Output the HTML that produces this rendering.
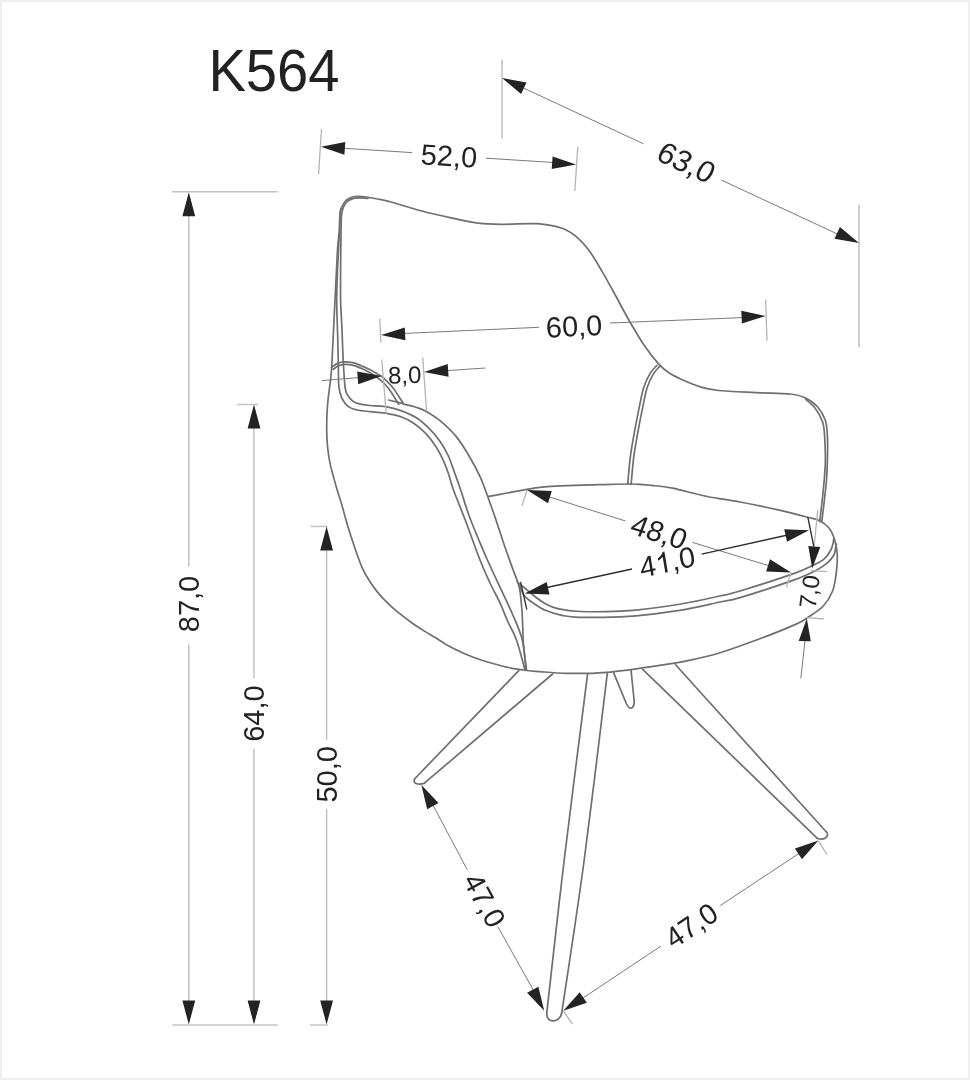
<!DOCTYPE html>
<html><head><meta charset="utf-8"><style>
html,body{margin:0;padding:0;background:#fff;}
body{width:970px;height:1080px;overflow:hidden;position:relative;}
.frame{position:absolute;left:0;top:0;width:966px;height:1076px;border:2px solid #efefef;}
svg{position:absolute;left:0;top:0;}
.ch{fill:none;stroke:#6f6f6f;stroke-width:1.7;stroke-linecap:round;stroke-linejoin:round;}
.dl{stroke:#7a7a7a;stroke-width:1;}
.tl{stroke:#b4b4b4;stroke-width:1.3;}
.xl{stroke:#c4c4c4;stroke-width:1.5;}
.vl{stroke:#bdbdbd;stroke-width:1.4;}
.ah{fill:#232323;}
.g1{fill:#222;}
.dk{stroke:#2e2e2e;stroke-width:1.3;}
text{font-family:"Liberation Sans",sans-serif;fill:#222;text-anchor:middle;}
.title{text-anchor:start;fill:#222;}
</style></head><body><div class="frame"></div>
<svg style="will-change:transform" width="970" height="1080" viewBox="0 0 970 1080">
<path class="ch" d="M487.8,496.7 C491.0,496.1 500.5,494.2 507.0,493.0 C513.5,491.8 521.2,490.3 526.7,489.4 C532.2,488.5 534.5,488.0 540.0,487.4 C545.5,486.8 550.0,486.2 560.0,485.8 C570.0,485.4 588.2,485.0 600.0,484.7 C611.8,484.4 622.2,483.9 630.8,484.0 C639.4,484.1 644.8,484.7 651.7,485.4 C658.7,486.1 663.2,486.3 672.5,488.2 C681.8,490.1 696.0,494.2 707.2,496.5 C718.5,498.8 728.4,499.8 740.0,502.0 C751.6,504.2 765.9,507.1 777.0,509.6 C788.1,512.1 799.6,515.1 806.7,517.0 C813.8,518.9 815.9,518.9 819.6,520.7 C823.3,522.5 826.4,525.0 828.9,528.0 C831.4,531.0 833.0,534.7 834.4,539.0 C835.8,543.3 836.9,548.4 837.2,554.0 C837.5,559.6 837.1,566.4 836.3,572.6 C835.5,578.8 834.8,585.4 832.6,591.0 C830.4,596.6 827.3,601.7 823.3,606.0 C819.3,610.3 813.1,613.9 808.5,617.0 C803.9,620.1 803.9,620.7 795.6,624.4 C787.3,628.1 771.1,634.6 758.5,639.3 C745.9,644.0 731.4,649.3 720.0,652.8 C708.6,656.3 701.4,657.9 690.3,660.2 C679.2,662.5 667.6,664.3 653.2,666.4 C638.8,668.5 618.1,671.5 603.7,672.6 C589.3,673.8 577.2,673.5 566.6,673.3 C556.0,673.1 546.6,672.1 540.0,671.6 C533.4,671.1 531.5,671.0 526.8,670.5 C522.1,670.0 517.2,669.4 512.0,668.4 C506.8,667.4 501.0,665.7 495.5,664.2 C490.0,662.7 484.5,661.2 479.0,659.3 C473.5,657.4 468.0,655.2 462.5,652.7 C457.0,650.2 450.5,646.9 446.0,644.4 C441.5,641.9 439.2,640.0 435.6,637.8 C432.0,635.6 428.5,633.7 424.4,631.1 C420.3,628.5 415.5,625.4 411.1,622.2 C406.7,619.1 401.9,615.5 397.8,612.2 C393.7,608.9 390.2,605.7 386.7,602.2 C383.2,598.7 379.7,594.8 376.7,591.1 C373.7,587.4 371.3,583.9 368.9,580.0 C366.5,576.1 364.2,572.2 362.2,567.8 C360.2,563.3 358.5,558.5 356.7,553.3 C354.9,548.1 352.9,542.2 351.1,536.7 C349.3,531.2 347.6,525.4 346.0,520.0 C344.4,514.6 343.2,509.4 341.7,504.4 C340.2,499.4 338.7,495.0 337.2,490.0 C335.7,485.0 334.0,478.8 332.8,474.4 C331.6,469.9 330.8,467.6 330.0,463.3 C329.2,459.1 328.3,453.3 327.8,448.9 C327.3,444.5 327.1,441.0 326.9,437.0 C326.7,433.0 326.7,429.2 326.7,425.0 C326.7,420.8 326.9,416.2 327.1,412.0 C327.3,407.8 327.6,404.0 328.0,400.0 C328.4,396.0 328.9,393.6 329.5,388.0 C330.1,382.4 330.8,381.4 331.7,366.7 C332.6,352.0 334.0,319.4 335.0,300.0 C336.0,280.6 336.8,261.7 337.5,250.0 C338.2,238.3 339.1,235.9 339.5,230.0 C339.9,224.1 339.6,218.3 339.9,214.7 C340.2,211.1 340.5,210.4 341.1,208.6 C341.7,206.8 342.6,205.1 343.6,203.6 C344.6,202.1 345.8,200.6 347.3,199.5 C348.8,198.4 350.8,197.5 352.7,197.0 C354.6,196.5 356.7,196.4 358.9,196.4 C361.1,196.4 362.8,196.6 366.0,197.0 C369.2,197.4 373.7,198.1 378.0,199.0 C382.3,199.9 384.4,200.1 391.9,202.2 C399.4,204.2 412.5,208.6 422.8,211.3 C433.1,214.0 444.4,216.4 453.7,218.4 C463.0,220.4 470.2,222.2 478.5,223.2 C486.8,224.2 493.4,224.2 503.2,224.3 C513.0,224.4 527.4,223.0 537.2,223.7 C547.0,224.4 555.3,226.0 562.0,228.3 C568.7,230.6 572.8,233.7 577.4,237.6 C582.0,241.5 585.7,245.8 589.8,251.5 C593.9,257.2 597.9,264.3 602.2,271.6 C606.5,278.9 610.9,287.1 615.5,295.5 C620.1,303.9 625.2,313.8 630.0,322.0 C634.8,330.2 639.2,338.0 644.0,345.0 C648.8,352.0 654.5,359.3 658.6,363.9 C662.7,368.5 664.7,369.9 668.5,372.5 C672.3,375.1 675.6,376.7 681.2,379.2 C686.8,381.7 695.7,385.5 701.9,387.4 C708.1,389.3 709.5,389.6 718.4,390.5 C727.3,391.4 743.5,392.0 755.5,392.6 C767.5,393.2 782.2,393.1 790.5,394.0 C798.8,394.9 800.5,395.6 805.0,397.7 C809.5,399.8 813.9,402.7 817.3,406.5 C820.7,410.3 823.6,415.4 825.3,420.3 C827.0,425.2 827.0,430.8 827.4,435.6 C827.8,440.5 827.7,442.5 827.6,449.4 C827.5,456.3 827.2,469.1 826.7,477.2 C826.2,485.3 825.4,490.6 824.6,498.0 C823.8,505.4 822.3,517.8 821.8,521.7"/>
<path class="ch" d="M805.8,399.4 C807.3,400.8 812.2,404.3 815.0,408.0 C817.8,411.7 820.9,417.1 822.5,421.7 C824.1,426.3 824.1,428.7 824.6,435.6 C825.1,442.5 825.5,454.1 825.3,463.3 C825.1,472.5 824.1,481.3 823.2,491.0 C822.3,500.7 820.3,516.6 819.7,521.7"/>
<path class="ch" d="M404.0,404.2 C406.0,404.7 412.4,406.1 416.0,407.3 C419.6,408.5 421.6,408.9 425.8,411.3 C430.0,413.7 436.1,417.3 441.2,421.6 C446.3,425.9 451.9,431.1 456.7,437.1 C461.5,443.1 466.2,451.0 470.1,457.7 C474.1,464.4 477.4,470.8 480.4,477.3 C483.3,483.8 485.3,489.8 487.8,496.7 C490.3,503.6 493.0,511.3 495.6,518.9 C498.2,526.5 500.7,534.6 503.3,542.2 C505.9,549.8 508.7,557.7 511.1,564.4 C513.5,571.1 516.3,577.8 517.8,582.2 C519.3,586.7 519.3,586.6 520.0,591.1 C520.7,595.6 521.4,603.7 521.9,609.5 C522.4,615.3 522.4,620.1 522.7,626.0 C523.0,631.9 522.9,637.7 523.5,645.0 C524.1,652.3 526.0,665.8 526.5,670.0"/>
<path class="ch" d="M368.0,198.4 C366.5,198.3 361.6,197.9 359.0,197.9 C356.4,197.9 354.6,198.1 352.7,198.6 C350.8,199.1 349.2,200.1 347.8,201.2 C346.4,202.3 345.3,203.6 344.4,205.2 C343.5,206.8 342.9,208.5 342.4,210.5 C341.9,212.5 341.6,213.4 341.4,217.0 C341.2,220.6 341.1,226.5 341.0,232.0 C340.9,237.5 340.9,243.7 340.8,250.0 C340.7,256.3 340.6,261.7 340.6,270.0 C340.6,278.3 340.4,290.0 340.6,300.0 C340.8,310.0 341.6,319.7 342.0,330.0 C342.4,340.3 342.8,352.6 343.3,362.0 C343.8,371.4 344.4,381.3 345.0,386.7 C345.6,392.1 345.9,392.0 347.2,394.4 C348.5,396.8 350.8,399.5 352.8,401.1 C354.8,402.7 356.5,403.2 359.4,403.9 C362.3,404.6 365.6,405.0 370.0,405.5 C374.4,406.0 380.4,405.8 385.5,406.7 C390.6,407.6 395.8,408.8 400.9,410.6 C406.0,412.5 411.6,414.7 416.4,417.8 C421.2,420.9 425.9,425.2 429.8,429.2 C433.8,433.1 437.0,437.0 440.1,441.5 C443.2,446.0 446.0,450.8 448.4,456.0 C450.8,461.2 452.4,466.8 454.5,472.5 C456.6,478.2 458.3,482.8 460.7,490.0 C463.1,497.2 466.1,507.5 469.0,515.5 C471.9,523.5 474.9,530.6 478.0,538.0 C481.1,545.4 483.7,551.8 487.4,560.0 C491.1,568.2 495.9,578.4 500.0,587.2 C504.1,596.0 508.3,604.2 512.0,613.0 C515.7,621.8 520.0,630.5 522.3,640.0 C524.6,649.5 525.4,665.0 526.0,670.0"/>
<path class="ch" d="M341.1,208.6 C340.9,209.6 340.2,211.1 339.9,214.7 C339.6,218.3 339.7,224.1 339.5,230.0 C339.3,235.9 338.8,243.3 338.5,250.0 C338.2,256.7 337.8,261.7 337.5,270.0 C337.2,278.3 336.7,290.0 336.7,300.0 C336.7,310.0 337.2,319.7 337.5,330.0 C337.8,340.3 338.1,352.6 338.3,362.0 C338.5,371.4 338.3,380.7 338.9,386.7 C339.5,392.7 340.1,394.5 341.7,397.8 C343.3,401.1 345.7,404.7 348.3,406.7 C350.9,408.7 353.6,409.2 357.2,410.0 C360.8,410.8 365.3,411.1 370.0,411.6 C374.7,412.1 380.4,412.3 385.5,413.2 C390.6,414.1 396.3,415.2 400.9,416.8 C405.5,418.4 409.2,420.2 413.3,423.0 C417.4,425.8 421.9,429.4 425.7,433.3 C429.5,437.2 433.1,442.2 436.0,446.7 C438.9,451.2 441.1,455.6 443.2,460.1 C445.3,464.6 446.7,468.5 448.4,473.5 C450.1,478.5 450.6,481.9 453.5,490.0 C456.4,498.1 461.6,510.3 466.0,522.0 C470.4,533.7 476.0,549.8 480.0,560.0 C484.0,570.2 486.7,575.9 490.0,583.0 C493.3,590.1 497.0,596.4 500.0,602.9 C503.0,609.4 505.2,615.8 508.0,622.0 C510.8,628.2 513.7,632.0 516.5,640.0 C519.3,648.0 523.6,665.0 525.0,670.0"/>
<path class="ch" d="M331.7,367.2 C332.7,366.5 335.8,364.0 337.9,363.1 C340.0,362.2 342.0,362.0 344.5,361.9 C347.0,361.8 349.9,362.1 352.7,362.7 C355.4,363.3 358.2,364.5 361.0,365.6 C363.8,366.7 366.4,367.9 369.2,369.3 C371.9,370.7 375.3,372.6 377.5,373.9 C379.7,375.2 380.5,375.3 382.4,376.9 C384.3,378.5 387.1,381.3 389.0,383.3 C390.9,385.3 392.4,386.9 394.0,389.1 C395.6,391.3 397.3,394.1 398.9,396.5 C400.5,398.9 402.7,402.6 403.5,403.8"/>
<path class="ch" d="M333.0,369.4 C333.9,368.8 336.6,366.6 338.5,365.8 C340.4,365.0 342.2,364.5 344.5,364.4 C346.8,364.3 349.8,364.5 352.5,365.1 C355.2,365.7 358.2,367.0 361.0,368.2 C363.8,369.4 366.6,370.7 369.2,372.2 C371.8,373.7 374.3,375.4 376.5,377.0 C378.7,378.6 380.6,380.1 382.5,381.8 C384.4,383.6 386.2,385.6 387.8,387.5 C389.4,389.4 390.7,391.6 392.0,393.5 C393.3,395.4 394.5,397.4 395.6,399.2 C396.7,401.0 398.3,403.5 398.8,404.4"/>
<path class="ch" d="M388.6,400.0 L403.0,403.6"/>
<path class="ch" d="M656.9,365.3 C655.8,366.7 652.2,369.9 650.0,373.6 C647.8,377.3 645.4,382.2 643.7,387.5 C642.0,392.8 641.1,398.4 639.6,405.6 C638.1,412.8 636.2,422.3 634.7,430.6 C633.2,438.9 631.7,446.7 630.5,455.6 C629.3,464.5 628.2,479.3 627.7,484.0"/>
<path class="ch" d="M660.3,365.6 C659.2,367.0 655.6,370.2 653.4,373.9 C651.2,377.6 648.8,382.5 647.1,387.8 C645.4,393.1 644.5,398.7 643.0,405.9 C641.5,413.1 639.6,422.6 638.1,430.9 C636.6,439.2 635.1,447.0 633.9,455.9 C632.7,464.8 631.6,479.6 631.1,484.3"/>
<path class="ch" d="M517.3,582.3 C518.5,583.2 521.8,585.7 524.7,588.0 C527.6,590.3 531.2,593.7 534.6,596.3 C538.0,598.9 541.5,601.6 545.4,603.7 C549.2,605.8 551.9,607.4 557.7,608.7 C563.5,610.0 568.2,611.2 580.0,611.5 C591.8,611.8 612.1,611.9 628.4,610.7 C644.7,609.5 662.7,607.0 678.0,604.5 C693.3,602.0 709.7,598.2 720.0,596.0 C730.3,593.8 727.5,594.8 740.0,591.0 C752.5,587.2 782.6,577.5 795.0,573.1 C807.4,568.7 809.5,567.1 814.4,564.7 C819.3,562.3 821.5,561.3 824.2,558.9 C826.9,556.5 829.1,553.2 830.6,550.5 C832.1,547.8 832.7,544.8 833.2,542.7 C833.7,540.6 833.7,538.8 833.8,538.0"/>
<path class="ch" d="M519.5,586.0 C520.4,587.7 522.5,593.5 524.7,596.3 C527.0,599.1 529.5,600.6 533.0,602.9 C536.5,605.2 540.6,608.2 545.4,610.3 C550.2,612.4 556.1,614.1 561.9,615.3 C567.7,616.5 568.9,617.1 580.0,617.3 C591.1,617.5 612.1,617.5 628.4,616.4 C644.7,615.3 662.7,613.1 678.0,610.7 C693.3,608.3 709.7,604.2 720.0,602.0 C730.3,599.8 727.5,601.3 740.0,597.6 C752.5,593.9 782.6,584.0 795.0,579.6 C807.4,575.2 809.0,574.0 814.4,571.2 C819.8,568.4 824.1,565.5 827.4,562.8 C830.6,560.1 832.5,557.6 833.9,555.0 C835.3,552.4 835.4,549.0 835.8,547.2 C836.2,545.4 836.3,544.5 836.4,544.0"/>
<path class="ch" d="M518.8,670.7 L414.5,779.0"/>
<path class="ch" d="M552.6,674.0 L424.7,782.9"/>
<path class="ch" d="M414.5,779 Q413,783.5 418,784 Q422,784.3 424.7,782.9"/>
<path class="ch" d="M587.6,673.8 C583.7,704.8 571.0,803.4 564.2,860.0 C557.4,916.6 549.6,987.8 546.7,1013.3"/>
<path class="ch" d="M607.4,672.6 C603.5,703.8 591.8,803.3 584.2,860.0 C576.6,916.7 565.5,987.5 561.7,1013.0"/>
<path class="ch" d="M546.7,1013.3 Q547,1021 553.3,1020.8 Q560,1020.5 561.7,1013"/>
<path class="ch" d="M613.6,672.6 L626.5,704 Q629,709.5 632.5,707.5 Q634.6,705.5 634.2,701 L631,670"/>
<path class="ch" d="M642.7,669.3 L817.3,838.3"/>
<path class="ch" d="M675.6,664.7 L826.4,832.0"/>
<path class="ch" d="M817.3,838.3 Q822,840.5 826,837.5 Q829,834.5 826.4,832"/>
<line class="xl" x1="171.7" y1="191.8" x2="278.0" y2="191.8"/>
<line class="xl" x1="172.4" y1="1025.0" x2="278.0" y2="1025.0"/>
<line class="xl" x1="310.0" y1="1025.0" x2="328.0" y2="1025.0"/>
<line class="xl" x1="237.3" y1="404.5" x2="258.0" y2="404.5"/>
<line class="xl" x1="310.6" y1="526.4" x2="327.8" y2="526.4"/>
<line class="vl" x1="188.8" y1="212.3" x2="188.8" y2="566.2"/>
<line class="vl" x1="188.8" y1="644.5" x2="188.8" y2="1004.5"/>
<path class="ah" d="M188.8,192.3 L195.2,216.3 L182.4,216.3 Z"/>
<path class="ah" d="M188.8,1024.5 L182.4,1000.5 L195.2,1000.5 Z"/>
<line class="vl" x1="254.0" y1="424.6" x2="254.0" y2="678.6"/>
<line class="vl" x1="254.0" y1="748.7" x2="254.0" y2="1004.5"/>
<path class="ah" d="M254.0,404.6 L260.4,428.6 L247.6,428.6 Z"/>
<path class="ah" d="M254.0,1024.5 L247.6,1000.5 L260.4,1000.5 Z"/>
<line class="vl" x1="326.6" y1="546.4" x2="326.6" y2="740.0"/>
<line class="vl" x1="326.6" y1="808.9" x2="326.6" y2="1004.5"/>
<path class="ah" d="M326.6,526.4 L333.0,550.4 L320.2,550.4 Z"/>
<path class="ah" d="M326.6,1024.5 L320.2,1000.5 L333.0,1000.5 Z"/>
<text transform="translate(188.6,604.0) rotate(-90.00)" y="10.1" font-size="29">87,0</text>
<text transform="translate(253.8,713.6) rotate(-90.00)" y="10.1" font-size="29">64,0</text>
<text transform="translate(326.4,774.4) rotate(-90.00)" y="10.1" font-size="29">50,0</text>
<line class="tl" x1="321.5" y1="129.0" x2="318.6" y2="174.0"/>
<line class="tl" x1="577.8" y1="147.0" x2="574.8" y2="191.0"/>
<line class="dl" x1="340.0" y1="148.0" x2="412.0" y2="152.6"/>
<line class="dl" x1="486.0" y1="158.2" x2="555.0" y2="162.6"/>
<path class="ah" d="M320.9,146.8 L345.3,142.1 L344.4,154.8 Z"/>
<path class="ah" d="M576.1,164.4 L551.7,169.1 L552.6,156.4 Z"/>
<text transform="translate(449.0,156.0) rotate(3.60)" y="10.1" font-size="29">52,0</text>
<line class="tl" x1="502.0" y1="59.4" x2="502.0" y2="138.4"/>
<line class="tl" x1="859.0" y1="204.7" x2="859.0" y2="347.0"/>
<line class="dl" x1="515.0" y1="84.1" x2="643.5" y2="143.8"/>
<line class="dl" x1="721.2" y1="180.0" x2="845.0" y2="237.5"/>
<path class="ah" d="M502.0,78.1 L526.5,82.4 L521.1,94.0 Z"/>
<path class="ah" d="M859.0,243.0 L834.5,238.7 L839.9,227.1 Z"/>
<text transform="translate(686.4,162.4) rotate(24.80) skewX(-4.0) scale(1.050,1.050)" y="10.1" font-size="29">63,0</text>
<line class="tl" x1="379.8" y1="318.6" x2="380.9" y2="342.5"/>
<line class="tl" x1="765.6" y1="299.6" x2="767.0" y2="340.8"/>
<line class="dl" x1="400.0" y1="333.6" x2="539.0" y2="327.3"/>
<line class="dl" x1="610.0" y1="323.0" x2="745.0" y2="317.5"/>
<path class="ah" d="M381.1,335.0 L404.8,327.4 L405.4,340.2 Z"/>
<path class="ah" d="M765.6,316.0 L741.9,323.6 L741.3,310.8 Z"/>
<text transform="translate(574.0,326.2) rotate(-2.70)" y="10.1" font-size="29">60,0</text>
<line class="tl" x1="381.7" y1="359.5" x2="386.3" y2="413.7"/>
<line class="tl" x1="422.7" y1="357.2" x2="426.5" y2="410.6"/>
<line class="dl" x1="321.7" y1="380.6" x2="360.0" y2="377.5"/>
<line class="dl" x1="445.0" y1="370.8" x2="485.3" y2="368.0"/>
<path class="ah" d="M381.6,375.9 L358.2,384.2 L357.2,371.4 Z"/>
<path class="ah" d="M424.2,371.9 L447.7,364.0 L448.6,376.8 Z"/>
<text transform="translate(404.6,375.0) rotate(-1.50)" y="8.4" font-size="24">8,0</text>
<line class="tl" x1="527.0" y1="490.0" x2="522.0" y2="505.6"/>
<line class="tl" x1="791.0" y1="572.6" x2="786.3" y2="587.4"/>
<line class="dl" x1="540.0" y1="494.0" x2="625.5" y2="521.0"/>
<line class="dl" x1="692.5" y1="542.4" x2="775.0" y2="567.6"/>
<path class="ah" d="M527.0,490.0 L551.8,491.1 L548.0,503.3 Z"/>
<path class="ah" d="M791.0,572.6 L766.2,571.5 L770.0,559.3 Z"/>
<text transform="translate(659.2,532.0) rotate(17.20) skewX(-4.0)" y="10.1" font-size="29">48,0</text>
<line class="dk" x1="520.6" y1="581.9" x2="526.8" y2="609.5"/>
<line class="tl" x1="817.8" y1="509.6" x2="814.2" y2="545.5"/>
<line class="dk" x1="540.0" y1="589.0" x2="632.0" y2="569.0"/>
<line class="dk" x1="701.6" y1="554.2" x2="790.0" y2="534.5"/>
<path class="ah" d="M524.7,593.4 L546.7,582.0 L549.5,594.4 Z"/>
<path class="ah" d="M809.0,530.2 L787.0,541.7 L784.2,529.2 Z"/>
<g transform="translate(667.4,561.9) rotate(-12.50) skewX(-3.0)"><text x="-28.22" y="10.1" font-size="29" style="text-anchor:start">4</text><path class="g1" transform="translate(-12.09,10.15) scale(0.01416,-0.01416)" d="M763,0 L583,0 L583,1147 Q518,1085 412,1023 Q306,961 222,930 L222,1104 Q373,1175 486,1276 Q599,1377 646,1472 L763,1472 Z"/><text x="4.03" y="10.1" font-size="29" style="text-anchor:start">,</text><text x="12.09" y="10.1" font-size="29" style="text-anchor:start">0</text></g>
<line class="dk" x1="807.8" y1="517.0" x2="813.8" y2="546.5"/>
<line class="tl" x1="810.7" y1="570.7" x2="827.0" y2="571.7"/>
<line class="tl" x1="806.8" y1="617.6" x2="823.8" y2="619.0"/>
<line class="dl" x1="805.0" y1="641.0" x2="800.8" y2="678.3"/>
<path class="ah" d="M808.3,545.9 L820.3,546.9 L812.2,568.6 Z"/>
<path class="ah" d="M806.8,618.6 L798.7,641 L810.8,641.3 Z"/>
<text transform="translate(809.4,591.7) rotate(-82.50)" y="8.4" font-size="24">7,0</text>
<line class="dl" x1="432.6" y1="804.4" x2="467.2" y2="869.6"/>
<line class="dl" x1="497.8" y1="926.7" x2="535.0" y2="993.0"/>
<path class="ah" d="M421.4,785.1 L438.5,803.1 L427.2,809.2 Z"/>
<path class="ah" d="M544.2,1010.8 L527.1,992.8 L538.4,986.7 Z"/>
<text transform="translate(484.5,900.2) rotate(61.50)" y="10.1" font-size="29">47,0</text>
<line class="dl" x1="580.0" y1="1000.0" x2="661.0" y2="946.0"/>
<line class="dl" x1="720.2" y1="905.6" x2="800.0" y2="852.8"/>
<line class="tl" x1="563.3" y1="1010.8" x2="572.5" y2="1024.2"/>
<line class="tl" x1="818.4" y1="840.6" x2="827.0" y2="855.0"/>
<path class="ah" d="M563.3,1010.8 L579.7,992.2 L586.8,1002.8 Z"/>
<path class="ah" d="M818.4,840.6 L802.0,859.2 L794.9,848.6 Z"/>
<text transform="translate(691.3,925.4) rotate(-33.70)" y="10.1" font-size="29">47,0</text>
<text transform="translate(208.4,90.8) scale(0.952,1)" font-size="59" class="title">K564</text>
</svg></body></html>
